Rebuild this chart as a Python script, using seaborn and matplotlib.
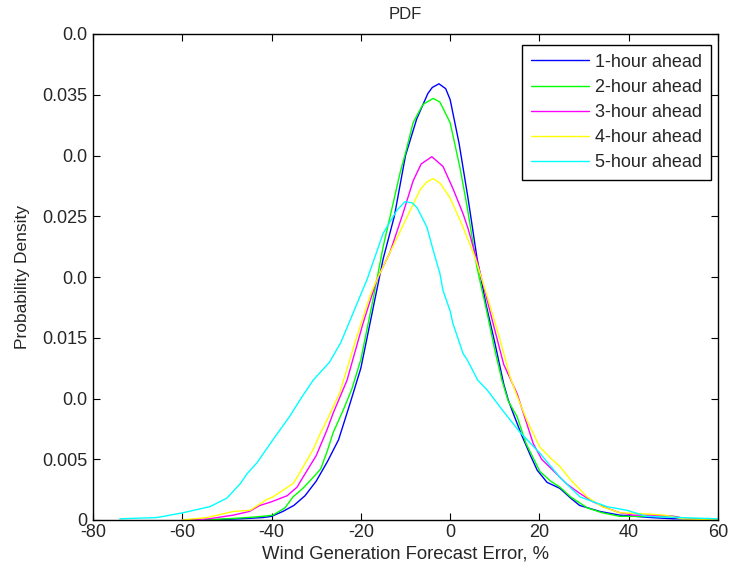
import numpy as np
import pandas as pd
import matplotlib
matplotlib.use("Agg")
import matplotlib.pyplot as plt
import seaborn as sns

# ---- data ----
series_names = ["1-hour ahead", "2-hour ahead", "3-hour ahead", "4-hour ahead", "5-hour ahead"]
series_colors = ["#0000ff", "#00ff00", "#ff00ff", "#ffff00", "#00ffff"]

x_1h = [-55, -47, -42, -40, -37.5, -35, -32.5, -30, -27.5, -25, -22.5, -20, -17.5, -15, -12.5, -10,
        -7.5, -5, -4, -2.5, -1, 0, 2, 4, 6, 8, 10, 12, 13, 14, 16, 18, 19.5, 21.7, 24.6, 27, 29, 33.6,
        38, 45, 50, 55, 60]
y_1h = [0, 0.0001, 0.0002, 0.0003, 0.0007, 0.0012, 0.002, 0.0032, 0.0048, 0.0066, 0.0095, 0.0125,
        0.017, 0.0215, 0.025, 0.030, 0.033, 0.0351, 0.0356, 0.0359, 0.0355, 0.0346, 0.031, 0.0265,
        0.0216, 0.0178, 0.0146, 0.0112, 0.0099, 0.0089, 0.007, 0.0053, 0.0041, 0.0031, 0.0026, 0.0018,
        0.0012, 0.0007, 0.0004, 0.0002, 0.0001, 0.0001, 0]

x_2h = [-55, -50, -45.5, -42, -39.7, -37, -35.2, -33, -30.7, -29, -27.5, -26.2, -24, -22, -20, -17.3,
        -15, -12.5, -11.2, -10, -8.3, -6.1, -3.8, -2.3, 0, 2.2, 3.8, 6, 8.3, 10, 11.6, 13, 15, 17,
        20.1, 22.5, 24.6, 27, 30.7, 34, 38, 45, 50, 53, 60]
y_2h = [0, 0.0001, 0.0002, 0.0003, 0.0004, 0.001, 0.0019, 0.0026, 0.0035, 0.0042, 0.0057, 0.0072,
        0.009, 0.0108, 0.0132, 0.0181, 0.0225, 0.0265, 0.0286, 0.0302, 0.0327, 0.0342, 0.0347, 0.0344,
        0.0327, 0.029, 0.0258, 0.0208, 0.017, 0.014, 0.0115, 0.0098, 0.0085, 0.0063, 0.004, 0.0032,
        0.0027, 0.0019, 0.001, 0.0006, 0.0003, 0.0003, 0.0003, 0.0001, 0]

x_3h = [-60, -54, -48.6, -45, -42.6, -40, -36.5, -34.3, -33, -30, -27.6, -26.2, -23.1, -19.5, -16.4,
        -13.5, -10.6, -8.3, -6.5, -4.1, -1.6, 0.6, 2.9, 4, 6.2, 9.6, 12, 15, 18.6, 20.5, 23, 26, 29,
        32, 35, 38, 41, 45, 50, 53, 60]
y_3h = [0, 0.0001, 0.0004, 0.0007, 0.0012, 0.0015, 0.002, 0.0027, 0.0035, 0.0053, 0.0074, 0.0088,
        0.0115, 0.0162, 0.0198, 0.022, 0.0252, 0.0279, 0.0293, 0.0299, 0.0291, 0.0273, 0.0252, 0.024,
        0.0211, 0.0162, 0.0128, 0.0104, 0.0063, 0.005, 0.0041, 0.003, 0.0022, 0.0015, 0.001, 0.0006,
        0.0004, 0.0004, 0.0003, 0.0001, 0]

x_4h = [-60, -54.5, -48.6, -44.8, -41, -39.7, -35.2, -34.3, -30.7, -29, -27.6, -24.7, -20.9, -17.9,
        -16.4, -13.5, -9.7, -6.7, -5.3, -3.8, -2.2, 0, 2.9, 5.6, 8.3, 11.2, 13.4, 15, 17.2, 20.1, 22.5,
        24.6, 27, 30.7, 34, 38, 44, 48, 52, 60]
y_4h = [0, 0.0002, 0.0007, 0.0008, 0.0017, 0.0019, 0.003, 0.0035, 0.0058, 0.0072, 0.0082, 0.0105,
        0.0151, 0.0185, 0.0198, 0.022, 0.0249, 0.0272, 0.0278, 0.0281, 0.0277, 0.0265, 0.0241, 0.0216,
        0.0184, 0.0148, 0.0118, 0.0102, 0.0082, 0.006, 0.0051, 0.0044, 0.0033, 0.0019, 0.0011, 0.0006,
        0.0005, 0.0004, 0.0001, 0]

x_5h = [-74, -65.7, -59.8, -53.8, -50, -47, -45.5, -43.3, -39.7, -36, -33.6, -30.7, -27, -24.5, -22,
        -20.2, -18.6, -15, -11.9, -10.1, -8.5, -7.4, -5.2, -3.8, -2.3, -1.6, 0, 0.6, 2.9, 3.8, 6.2,
        8.3, 11.8, 15.7, 20.1, 24.6, 29.1, 35.1, 39.6, 44, 51.5, 60]
y_5h = [0.0001, 0.0002, 0.0006, 0.0011, 0.0018, 0.003, 0.0038, 0.0047, 0.0066, 0.0085, 0.0099, 0.0115,
        0.013, 0.0146, 0.0168, 0.0184, 0.0198, 0.0236, 0.0255, 0.0262, 0.0261, 0.0257, 0.0241, 0.0222,
        0.0203, 0.0189, 0.0172, 0.0162, 0.0137, 0.0132, 0.0115, 0.0107, 0.009, 0.0072, 0.0055, 0.0035,
        0.0019, 0.0011, 0.0008, 0.0003, 0.0002, 0.0001]

x_ticks = [-80, -60, -40, -20, 0, 20, 40, 60]
y_ticks = [0, 0.005, 0.01, 0.015, 0.02, 0.025, 0.03, 0.035, 0.04]
y_tick_labels = ["0", "0.005", "0.0", "0.015", "0.0", "0.025", "0.0", "0.035", "0.0"]

# ---- build table ----
xs = [x_1h, x_2h, x_3h, x_4h, x_5h]
ys = [y_1h, y_2h, y_3h, y_4h, y_5h]
frames = []
for name, xv, yv in zip(series_names, xs, ys):
    frames.append(pd.DataFrame({"err": xv, "pdf": yv, "series": name}))
df = pd.concat(frames, ignore_index=True)

sns.set_style("white")
plt.rcParams["font.family"] = ["Liberation Sans", "DejaVu Sans"]
plt.rcParams["font.size"] = 13

fig = plt.figure(figsize=(7.3, 5.76), dpi=100)
ax = fig.add_axes([93 / 730, 56 / 576, 625 / 730, 486 / 576])

sns.lineplot(data=df, x="err", y="pdf", hue="series", hue_order=series_names,
             palette=dict(zip(series_names, series_colors)), estimator=None,
             linewidth=1.0, ax=ax, legend=False)

ax.set_xlim(-80, 60)
ax.set_ylim(0, 0.04)
ax.set_xticks(x_ticks)
ax.set_xticklabels([str(t) for t in x_ticks])
ax.set_yticks(y_ticks)
ax.set_yticklabels(y_tick_labels)
ax.tick_params(direction="in", top=True, right=True, bottom=True, left=True,
               length=5, width=0.8, color="black", pad=4)
ax.tick_params(axis="x", labelsize=13, pad=3)
ax.tick_params(axis="y", labelsize=13)
for s in ax.spines.values():
    s.set_visible(True)
    s.set_color("black")
    s.set_linewidth(1.0)

ax.set_xlabel("Wind Generation Forecast Error, %", fontsize=13.3, labelpad=3)
ax.set_ylabel("Probability Density", fontsize=12.5, labelpad=9)
ax.set_title("PDF", fontsize=12, pad=11)

handles = [plt.Line2D([], [], color=c, lw=1.0) for c in series_colors]
leg = ax.legend(handles, series_names, loc="upper right", bbox_to_anchor=(0.989, 0.978),
                frameon=True, fancybox=False, edgecolor="black", framealpha=1,
                fontsize=13, handlelength=3.2, handletextpad=0.35, labelspacing=0.45,
                borderpad=0.5, borderaxespad=0)
leg.get_frame().set_linewidth(1.0)

fig.savefig("out.png", dpi=100)
